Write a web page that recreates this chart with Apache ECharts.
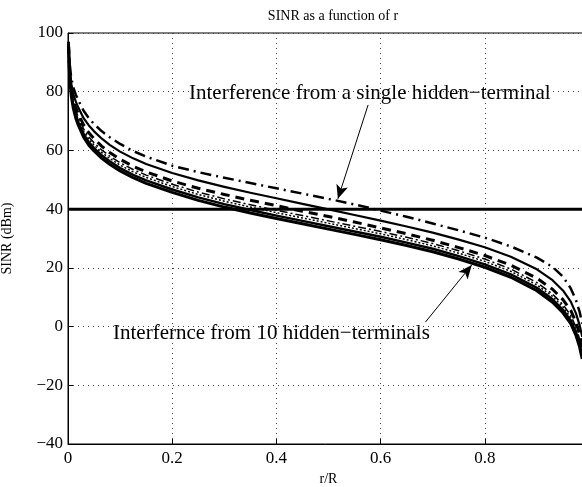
<!DOCTYPE html>
<html>
<head>
<meta charset="utf-8">
<script src="https://cdn.jsdelivr.net/npm/echarts@6/dist/echarts.min.js"></script>
<style>
  html, body { margin: 0; padding: 0; background: #fff; }
  #main { width: 582px; height: 487px; }
</style>
</head>
<body>
<div id="main"></div>
<script>
  // r/R sample points
  var rR = [0.001, 0.003, 0.006, 0.01, 0.015, 0.02, 0.03, 0.04, 0.05, 0.065, 0.08, 0.1, 0.125, 0.15, 0.2, 0.25, 0.3, 0.35,
    0.4, 0.45, 0.5, 0.55, 0.6, 0.65, 0.7, 0.75, 0.8, 0.85, 0.9, 0.93, 0.95, 0.965, 0.975, 0.982, 0.987];
  // single hidden-terminal curves
  var singleDashDot = [97, 90, 85, 81.5, 79, 77, 73.5, 71, 69, 66.5, 64.5, 62.2, 59.8, 57.9, 54.8, 52.6, 50.7, 48.9,
    47.1, 45.3, 43.5, 41.6, 39.5, 37.4, 35.1, 32.8, 30.3, 27.3, 23.5, 20.3, 17, 13, 9, 5, 1];
  var singleSolid = [97, 88.5, 83, 79.3, 76.6, 74.5, 71, 68.5, 66.5, 64, 61.9, 59.6, 57.3, 55.4, 52.3, 49.8, 47.6, 45.6,
    43.7, 41.8, 39.9, 38, 36.1, 34.1, 32, 29.6, 27, 23.8, 19.5, 15.8, 12.3, 8.5, 4.5, 0.5, -3.5];
  var singleDashed = [96, 87, 81, 77.3, 74.5, 72.3, 68.7, 66, 64, 61.4, 59.3, 57, 54.6, 52.7, 49.6, 47.1, 45, 43,
    41.2, 39.3, 37.5, 35.6, 33.6, 31.6, 29.4, 26.9, 24.2, 20.9, 16.5, 12.7, 9.2, 5.5, 1.5, -2.5, -6.5];
  // 10 hidden-terminal curves
  var tenDashDot = [96, 87.3, 81.3, 76.9, 73.7, 71.2, 67.3, 64.6, 62.6, 60.1, 58.1, 55.8, 53.5, 51.6, 48.5, 45.8, 43.5, 41.5,
    39.6, 37.8, 36, 34.2, 32.4, 30.4, 28.3, 25.8, 23, 19.6, 15, 11.1, 7.5, 3.8, -0.2, -4.2, -8.2];
  var tenDotted = [96, 86.8, 80.6, 76.2, 72.9, 70.4, 66.5, 63.8, 61.8, 59.3, 57.3, 55, 52.7, 50.8, 47.7, 45, 42.7, 40.7,
    38.8, 37, 35.2, 33.4, 31.6, 29.6, 27.5, 25, 22.2, 18.8, 14.2, 10.3, 6.7, 3, -1, -5, -9];
  var tenSolid = [96, 86.2, 79.8, 75.4, 72, 69.5, 65.5, 62.8, 60.8, 58.3, 56.3, 54, 51.7, 49.8, 46.7, 44, 41.7, 39.7,
    37.8, 36, 34.2, 32.4, 30.6, 28.6, 26.5, 24, 21.2, 17.8, 13.2, 9.3, 5.7, 2, -2, -6, -10];
  var tenSolidLow = [96, 85.5, 79, 74.5, 71, 68.5, 64.5, 61.8, 59.8, 57.3, 55.3, 53, 50.7, 48.8, 45.7, 43, 40.7, 38.7,
    36.8, 35, 33.2, 31.4, 29.6, 27.6, 25.5, 23, 20.2, 16.8, 12.2, 8.3, 4.7, 1, -3, -7, -11];
  // threshold line
  var thresholdX = [0, 1];
  var thresholdY = [40, 40];
  // axis ticks
  var xTicks = [0, 0.2, 0.4, 0.6, 0.8, 1];
  var yTicks = [-40, -20, 0, 20, 40, 60, 80, 100];

  var font = 'Liberation Serif, Times New Roman, serif';

  function pairs (xs, ys) {
    return xs.map(function (x, i) { return [x, ys[i]] })
  }

  function curve (ys, width, type) {
    return {
      type: 'line',
      data: pairs(rR, ys),
      showSymbol: false,
      smooth: false,
      clip: true,
      lineStyle: { color: '#000', width: width, type: type, join: 'round' },
      silent: true
    }
  }

  var chart = echarts.init(document.getElementById('main'), null, { renderer: 'canvas' });
  var option = {
    animation: false,
    backgroundColor: '#fff',
    title: {
      text: 'SINR as a function of r',
      left: 328,
      top: 4,
      textAlign: 'center',
      textStyle: { fontFamily: font, fontSize: 14, fontWeight: 'normal', color: '#000' }
    },
    grid: {
      left: 68, top: 33, width: 521, height: 411,
      outerBoundsMode: 'none',
      containLabel: false,
      show: true, borderColor: '#000', borderWidth: 1, backgroundColor: 'transparent'
    },
    xAxis: {
      type: 'value',
      min: xTicks[0],
      max: xTicks[xTicks.length - 1],
      interval: 0.2,
      name: 'r/R',
      nameLocation: 'middle',
      nameGap: 28,
      nameTextStyle: { fontFamily: font, fontSize: 14, color: '#000' },
      axisLine: { show: true, onZero: false, lineStyle: { color: '#000', width: 1 } },
      axisTick: { show: true, inside: true, length: 5, lineStyle: { color: '#000' } },
      axisLabel: {
        fontFamily: font, fontSize: 17, color: '#000', margin: 6,
        formatter: function (v) { return v === 1 ? '' : String(+v.toFixed(1)) }
      },
      splitLine: { show: true, lineStyle: { color: '#444', width: 1, type: [1, 4] } }
    },
    yAxis: {
      type: 'value',
      min: yTicks[0],
      max: yTicks[yTicks.length - 1],
      interval: 20,
      name: 'SINR (dBm)',
      nameLocation: 'middle',
      nameGap: 54,
      nameRotate: 90,
      nameTextStyle: { fontFamily: font, fontSize: 14, color: '#000' },
      axisLine: { show: true, onZero: false, lineStyle: { color: '#000', width: 1 } },
      axisTick: { show: true, inside: true, length: 5, lineStyle: { color: '#000' } },
      axisLabel: {
        fontFamily: font, fontSize: 17, color: '#000', margin: 5,
        formatter: function (v) { return String(v).replace('-', '\u2212') }
      },
      splitLine: { show: true, lineStyle: { color: '#444', width: 1, type: [1, 4] } }
    },
    series: [
      curve(tenSolidLow, 3, 'solid'),
      curve(tenSolid, 2.5, 'solid'),
      curve(tenDotted, 1.5, [2, 2]),
      curve(tenDashDot, 1.5, [8, 3, 2, 3]),
      curve(singleDashed, 3, [9, 6]),
      curve(singleSolid, 2.2, 'solid'),
      curve(singleDashDot, 2.5, [11, 5, 2, 5]),
      {
        type: 'line',
        data: pairs(thresholdX, thresholdY),
        showSymbol: false,
        lineStyle: { color: '#000', width: 3 },
        silent: true,
        markLine: {
          silent: true,
          symbol: ['none', 'arrow'],
          symbolSize: [9, 14],
          label: { show: false },
          lineStyle: { color: '#000', width: 1, type: 'solid' },
          data: [
            [{ coord: [0.576, 75.5] }, { coord: [0.518, 43.5] }],
            [{ coord: [0.686, 1.5] }, { coord: [0.775, 21] }]
          ]
        }
      }
    ],
    graphic: [
      {
        type: 'text', left: 189, top: 83,
        style: { text: 'Interference from a single hidden\u2212terminal', font: '21px ' + font, fill: '#000' }
      },
      {
        type: 'text', left: 113, top: 323,
        style: { text: 'Interfernce from 10 hidden\u2212terminals', font: '21px ' + font, fill: '#000' }
      }
    ]
  };
  chart.setOption(option);
</script>
</body>
</html>
